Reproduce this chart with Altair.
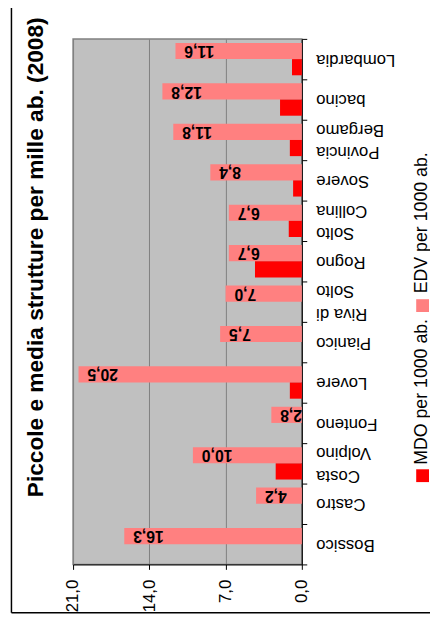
import altair as alt
import pandas as pd

# ---- data ----
categories = ["Lombardia", "bacino", "Povincia Bergamo", "Sovere", "Solto Collina",
              "Rogno", "Riva di Solto", "Pianico", "Lovere", "Fonteno",
              "Costa Volpino", "Castro", "Bossico"]
edv = [11.6, 12.8, 11.8, 8.4, 6.7, 6.7, 7.0, 7.5, 20.5, 2.8, 10.0, 4.2, 16.3]
mdo = [0.9, 2.0, 1.1, 0.8, 1.2, 4.3, 0.0, 0.0, 1.1, 0.0, 2.4, 0.0, 0.0]
series = ["EDV per 1000 ab.", "MDO per 1000 ab."]
colors = ["#FF8080", "#FF0000"]
value_ticks = [0, 7, 14, 21]
title_text = "Piccole e media strutture per mille ab. (2008)"

FONT = "Liberation Sans"

rows = []
for c, e, m in zip(categories, edv, mdo):
    rows.append({"cat": c, "series": series[0], "value": e,
                 "label": f"{e:.1f}".replace(".", ",")})
    rows.append({"cat": c, "series": series[1], "value": m,
                 "label": f"{m:.1f}".replace(".", ",")})
df = pd.DataFrame(rows)
df_edv = df[df["series"] == series[0]]

y_scale = alt.Scale(domain=categories, paddingInner=0, paddingOuter=0)
yoff_scale = alt.Scale(domain=series, paddingInner=0, paddingOuter=0.25)
x_scale = alt.Scale(domain=[0, 21], reverse=True, nice=False)
c_scale = alt.Scale(domain=series, range=colors)

label_expr_cat = ("datum.label == 'Riva di Solto' ? ['Riva di', 'Solto'] : "
                  "split('' + datum.label, ' ')")

y_axis = alt.Axis(orient="right", title=None, labelAngle=180, labelAlign="right",
                  labelBaseline="middle", labelFontSize=17, labelFont=FONT,
                  labelColor="black", labelPadding=9, tickBand="extent",
                  tickSize=5, tickColor="black", domainColor="black",
                  labelExpr=label_expr_cat, labelLineHeight=23, grid=False,
                  labelLimit=0,
                  labelOffset={"condition": {"test": "indexof('' + datum.label, ' ') >= 0",
                                             "value": 12}, "value": 0})
x_axis = alt.Axis(orient="bottom", title=None, values=value_ticks,
                  labelExpr="replace(format(datum.value, '.1f'), '.', ',')",
                  labelAngle=270, labelAlign="right", labelBaseline="middle",
                  labelFontSize=17, labelFont=FONT, labelColor="black",
                  labelPadding=10, tickSize=5, tickColor="black",
                  domainColor="black", grid=True, gridColor="#808080",
                  labelFlush=False, labelOverlap=False)

bars = alt.Chart(df).mark_bar().encode(
    y=alt.Y("cat:N", sort=categories, scale=y_scale, axis=y_axis),
    yOffset=alt.YOffset("series:N", sort=series, scale=yoff_scale),
    x=alt.X("value:Q", scale=x_scale, axis=x_axis),
    color=alt.Color("series:N", scale=c_scale, legend=None),
)

labels = alt.Chart(df_edv).mark_text(
    angle=180, align="right", baseline="middle", dx=-9, fontSize=16,
    fontWeight="bold", font=FONT, color="black"
).encode(
    y=alt.Y("cat:N", sort=categories, scale=y_scale),
    yOffset=alt.YOffset("series:N", sort=series, scale=yoff_scale),
    x=alt.X("value:Q", scale=x_scale),
    text="label:N",
)

title = alt.Chart(pd.DataFrame({"t": [title_text]})).mark_text(
    angle=270, align="center", baseline="alphabetic", fontSize=23,
    fontWeight="bold", font=FONT, color="black"
).encode(x=alt.value(-31), y=alt.value(221.5), text="t:N")

leg_edv_sq = alt.Chart(pd.DataFrame({"s": [series[0]]})).mark_square(
    size=169, opacity=1, color=colors[0]
).encode(x=alt.value(354.5), y=alt.value(270.5))
leg_edv_tx = alt.Chart(pd.DataFrame({"s": [series[0]]})).mark_text(
    angle=270, align="left", baseline="alphabetic", fontSize=18, font=FONT,
    color="black"
).encode(x=alt.value(359), y=alt.value(258), text="s:N")
leg_mdo_sq = alt.Chart(pd.DataFrame({"s": [series[1]]})).mark_square(
    size=169, opacity=1, color=colors[1]
).encode(x=alt.value(354.5), y=alt.value(443))
leg_mdo_tx = alt.Chart(pd.DataFrame({"s": [series[1]]})).mark_text(
    angle=270, align="left", baseline="alphabetic", fontSize=18, font=FONT,
    color="black"
).encode(x=alt.value(359), y=alt.value(432), text="s:N")

dummy = pd.DataFrame({"d": [0]})
frame_left = alt.Chart(dummy).mark_rule(color="black", strokeWidth=1.5).encode(
    x=alt.value(-62.5), y=alt.value(-35), y2=alt.value(582))
frame_bottom = alt.Chart(dummy).mark_rule(color="black", strokeWidth=1.5).encode(
    y=alt.value(582), x=alt.value(-62.5), x2=alt.value(364))

chart = alt.layer(
    bars, labels, title, leg_edv_sq, leg_edv_tx, leg_mdo_sq, leg_mdo_tx,
    frame_left, frame_bottom
).properties(
    width=232, height=533,
    autosize=alt.AutoSizeParams(type="none"),
    padding={"left": 66, "top": 27, "right": 130, "bottom": 50},
    background="white",
).configure_view(
    fill="#C0C0C0", stroke="#808080", strokeWidth=1.5
)

chart.save("out.html", embed_options={"renderer": "svg", "actions": False})
